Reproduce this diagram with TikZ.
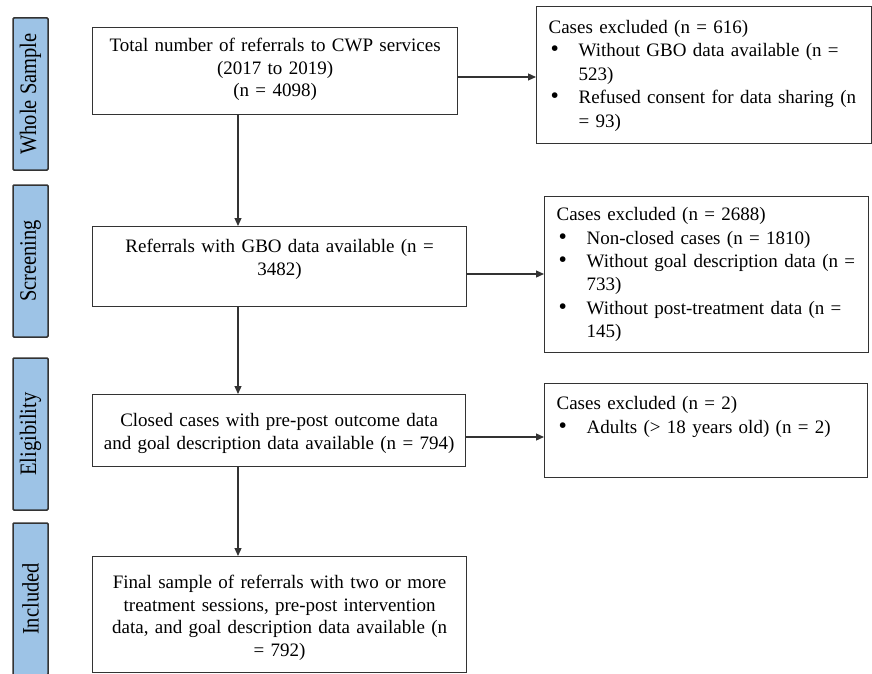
\documentclass[tikz,border=0pt]{standalone}
\usepackage{fontspec}
\setmainfont{Liberation Serif}
\usetikzlibrary{arrows.meta}
\definecolor{phasefill}{HTML}{9DC3E6}
\definecolor{edgegray}{HTML}{333333}
\newcommand\bitem{\makebox[30pt][l]{\hspace{2pt}\scalebox{1.25}{\textbullet}}}
\newcommand\bcont{\hspace*{30pt}}
\newcommand\phasetext[1]{\scalebox{1}[1.15]{#1}}
\begin{document}
\begin{tikzpicture}[x=1pt,y=-1pt,
  flow/.style={draw=edgegray, line width=1.2pt, anchor=north west, inner xsep=0pt, inner ysep=0pt,
    align=center, font=\fontsize{19}{22.5}\selectfont},
  excl/.style={draw=edgegray, line width=1.2pt, anchor=north west, inner xsep=12pt, inner ysep=0pt,
    align=left, font=\fontsize{19}{23.4}\selectfont},
  phase/.style={draw=edgegray, fill=phasefill, line width=1.5pt, rounded corners=1pt,
    minimum width=152pt, minimum height=35pt, inner sep=0pt, rotate=90,
    font=\fontsize{20.5}{22}\selectfont},
  arr/.style={draw=edgegray, line width=1.2pt, -{Triangle[length=8pt,width=7pt]}}]
\useasboundingbox (0,0) rectangle (872,674);
\fill[white] (0,0) rectangle (872,674);

% phase labels
\node[phase] (p1) at (30.5,94) {\phasetext{Whole Sample}};
\node[phase] (p2) at (30.5,261) {\phasetext{Screening}};
\node[phase] (p3) at (30.5,434) {\phasetext{Eligibility}};
\node[phase] (p4) at (30.5,599) {\phasetext{Included}};

% main flow
\node[flow, text width=365pt, text height=24pt, text depth=63pt] (b1) at (92,27)
  {Total number of referrals to CWP services\\(2017 to 2019)\\(n = 4098)};
\node[flow, text width=374pt, text height=26pt, text depth=54pt] (b2) at (92,226)
  {Referrals with GBO data available (n =\\3482)};
\node[flow, text width=373pt, text height=32pt, text depth=40pt] (b3) at (92,394)
  {Closed cases with pre-post outcome data\\and goal description data available (n = 794)};
\node[flow, text width=374pt, text height=32pt, text depth=84pt] (b4) at (92,556)
  {Final sample of referrals with two or more\\treatment sessions, pre-post intervention\\data, and goal description data available (n\\= 792)};

% exclusion boxes
\node[excl, text width=311pt, text height=27pt, text depth=110pt] (e1) at (536,6)
  {\mbox{Cases excluded (n = 616)}\\
   \mbox{\bitem Without GBO data available (n =}\\
   \mbox{\bcont 523)}\\
   \mbox{\bitem Refused consent for data sharing (n}\\
   \mbox{\bcont = 93)}};
\node[excl, text width=300pt, text height=24pt, text depth=132pt] (e2) at (544,196)
  {\mbox{Cases excluded (n = 2688)}\\
   \mbox{\bitem Non-closed cases (n = 1810)}\\
   \mbox{\bitem Without goal description data (n =}\\
   \mbox{\bcont 733)}\\
   \mbox{\bitem Without post-treatment data (n =}\\
   \mbox{\bcont 145)}};
\node[excl, text width=299pt, text height=26pt, text depth=68pt] (e3) at (544,383)
  {\mbox{Cases excluded (n = 2)}\\
   \mbox{\bitem Adults (> 18 years old) (n = 2)}};

% connectors
\draw[arr] (b1.south -| 238,0) -- (b2.north -| 238,0);
\draw[arr] (b2.south -| 238,0) -- (b3.north -| 238,0);
\draw[arr] (b3.south -| 238,0) -- (b4.north -| 238,0);
\draw[arr] (b1.east |- 0,77) -- (e1.west |- 0,77);
\draw[arr] (b2.east |- 0,274) -- (e2.west |- 0,274);
\draw[arr] (b3.east |- 0,437) -- (e3.west |- 0,437);
\end{tikzpicture}
\end{document}
